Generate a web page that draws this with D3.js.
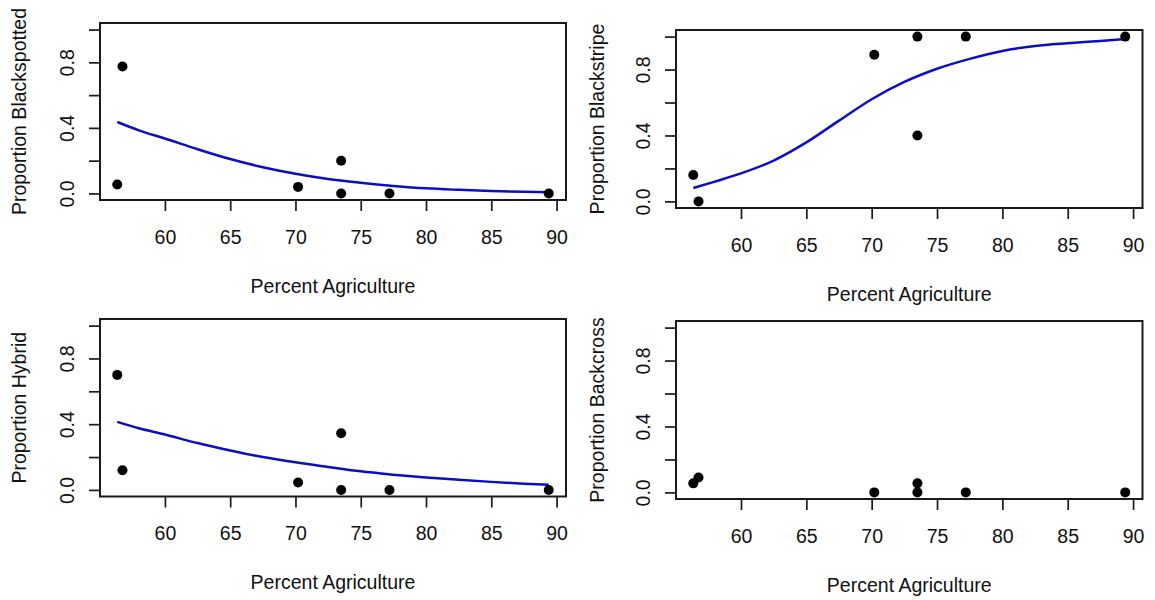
<!DOCTYPE html>
<html>
<head>
<meta charset="utf-8">
<script src="https://cdn.jsdelivr.net/npm/d3@7"></script>
<style>
body { margin: 0; background: #fff; }
text { font-family: "Liberation Sans", Arial, sans-serif; }
</style>
</head>
<body>
<svg id="drawing_region"></svg>
<script>
// percent agriculture at each site (shared by all panels)
const pct_ag = [56.35, 56.75, 70.2, 73.5, 73.5, 77.2, 89.4];

// observed proportions per site
const blackspotted = [0.055, 0.775, 0.04, 0.2, 0, 0, 0];
const blackstripe  = [0.16, 0, 0.89, 1.0, 0.4, 1.0, 1.0];
const hybrid       = [0.70, 0.12, 0.045, 0.345, 0, 0, 0];
const backcross    = [0.055, 0.09, 0, 0.055, 0, 0, 0];

// fitted curves
const fit_x            = [56.35, 58, 60, 62.5, 65, 67.5, 70, 72.5, 75, 77.5, 80, 82.5, 85, 87.5, 89.4];
const fit_blackspotted = [0.436, 0.385, 0.335, 0.27, 0.21, 0.16, 0.12, 0.088, 0.065, 0.046, 0.031, 0.022, 0.015, 0.01, 0.007];
const fit_blackstripe  = [0.081, 0.12, 0.17, 0.248, 0.358, 0.49, 0.62, 0.725, 0.805, 0.865, 0.913, 0.943, 0.96, 0.974, 0.985];
const fit_hybrid       = [0.414, 0.375, 0.337, 0.285, 0.24, 0.2, 0.168, 0.14, 0.113, 0.093, 0.076, 0.062, 0.049, 0.038, 0.031];

const x_ticks = [60, 65, 70, 75, 80, 85, 90];
const y_ticks = [0, 0.2, 0.4, 0.6, 0.8, 1.0];
const y_labelled = [0, 0.4, 0.8];
const x_title = "Percent Agriculture";

const svg = d3.select('#drawing_region')
    .attr('width', 1155)
    .attr('height', 600);

class Panel {

    constructor( config, ys, fit ) {
        this.config = config;
        this.data = pct_ag.map( (x, i) => ({x: x, y: ys[i]}) );
        this.fit = fit ? fit_x.map( (x, i) => ({x: x, y: fit[i]}) ) : null;
        this.init();
    }

    init() {
        let self = this;
        const c = self.config;

        self.chart = svg.append('g');

        // R style 4% padding on the x range, y fixed at 0..1
        const [xmin, xmax] = d3.extent( pct_ag );
        const pad = (xmax - xmin) * 0.04;
        self.xscale = d3.scaleLinear()
            .domain( [xmin - pad, xmax + pad] )
            .range( [c.left, c.right] );

        self.yscale = d3.scaleLinear()
            .domain( [-0.04, 1.04] )
            .range( [c.bottom, c.top] );
    }

    render() {
        let self = this;
        const c = self.config;

        const xaxis = d3.axisBottom( self.xscale )
            .tickValues( x_ticks )
            .tickSize( 11 );

        const xg = self.chart.append('g')
            .attr('transform', `translate(0, ${c.bottom})`)
            .call( xaxis );
        xg.select('.domain').remove();
        xg.selectAll('.tick line').attr('stroke', '#1a1a1a').attr('stroke-width', 1.7);
        xg.selectAll('.tick text')
            .attr('y', 37)
            .attr('dy', '0.35em')
            .attr('font-size', 19.5)
            .attr('font-family', '"Liberation Sans", Arial, sans-serif')
            .attr('fill', '#111');

        const yaxis = d3.axisLeft( self.yscale )
            .tickValues( y_ticks )
            .tickSize( 11 )
            .tickFormat( d => y_labelled.includes(d) ? d3.format('.1f')(d) : '' );

        const yg = self.chart.append('g')
            .attr('transform', `translate(${c.left}, 0)`)
            .call( yaxis );
        yg.select('.domain').remove();
        yg.selectAll('.tick line').attr('stroke', '#1a1a1a').attr('stroke-width', 1.7);
        yg.selectAll('.tick text')
            .attr('x', 0)
            .attr('y', -33)
            .attr('dy', '0.35em')
            .attr('transform', 'rotate(-90)')
            .attr('text-anchor', 'middle')
            .attr('font-size', 19.5)
            .attr('font-family', '"Liberation Sans", Arial, sans-serif')
            .attr('fill', '#111');

        if ( self.fit ) {
            const line = d3.line()
                .x( d => self.xscale(d.x) )
                .y( d => self.yscale(d.y) )
                .curve( d3.curveMonotoneX );

            self.chart.append('path')
                .attr('d', line(self.fit))
                .attr('stroke', '#0d0dc6')
                .attr('stroke-width', 2.5)
                .attr('fill', 'none');
        }

        self.chart.selectAll('circle')
            .data(self.data)
            .enter()
            .append('circle')
            .attr('cx', d => self.xscale(d.x))
            .attr('cy', d => self.yscale(d.y))
            .attr('r', 5)
            .attr('fill', '#000');

        self.chart.append('rect')
            .attr('x', c.left)
            .attr('y', c.top)
            .attr('width', c.right - c.left)
            .attr('height', c.bottom - c.top)
            .attr('fill', 'none')
            .attr('stroke', '#1a1a1a')
            .attr('stroke-width', 2);

        self.chart.append('text')
            .attr('x', (c.left + c.right) / 2)
            .attr('y', c.bottom + 86)
            .attr('dy', '0.35em')
            .attr('text-anchor', 'middle')
            .attr('font-size', 19.5)
            .attr('fill', '#111')
            .text( x_title );

        self.chart.append('text')
            .attr('transform', `translate(${c.ylab_x}, ${(c.top + c.bottom) / 2}) rotate(-90)`)
            .attr('dy', '0.35em')
            .attr('text-anchor', 'middle')
            .attr('font-size', 19.5)
            .attr('fill', '#111')
            .text( c.ylab );
    }
}

const panels = [
    { cfg: {left: 100, right: 566, top: 23, bottom: 200, ylab_x: 19, ylab: "Proportion Blackspotted"}, ys: blackspotted, fit: fit_blackspotted },
    { cfg: {left: 676, right: 1142.5, top: 30, bottom: 208, ylab_x: 597, ylab: "Proportion Blackstripe"}, ys: blackstripe, fit: fit_blackstripe },
    { cfg: {left: 100, right: 566, top: 319, bottom: 496.5, ylab_x: 19, ylab: "Proportion Hybrid"}, ys: hybrid, fit: fit_hybrid },
    { cfg: {left: 676, right: 1142.5, top: 321, bottom: 499, ylab_x: 597, ylab: "Proportion Backcross"}, ys: backcross, fit: null }
];

panels.forEach( p => {
    const panel = new Panel( p.cfg, p.ys, p.fit );
    panel.render();
});
</script>
</body>
</html>
